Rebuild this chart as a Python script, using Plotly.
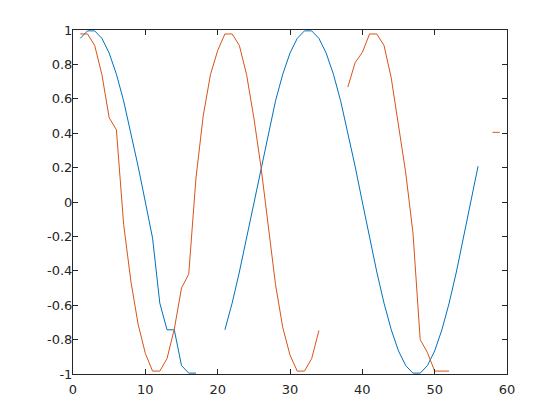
import plotly.graph_objects as go

x_vals = list(range(1, 60))

blue_vals = [0.951, 0.995, 0.995, 0.951, 0.866, 0.743, 0.588, 0.407, 0.208, 0.0,
             -0.21, -0.588, -0.743, -0.743, -0.951, -0.995, -0.995, None, None, None,
             -0.743, -0.588, -0.407, -0.208, 0.0, 0.208, 0.407, 0.588, 0.743, 0.866,
             0.951, 0.995, 0.995, 0.951, 0.866, 0.743, 0.588, 0.407, 0.208, 0.0,
             -0.208, -0.407, -0.588, -0.743, -0.866, -0.951, -0.995, -0.995, -0.951, -0.866,
             -0.743, -0.588, -0.407, -0.208, 0.0, 0.208, None, None, None]

orange_vals = [0.977, 0.977, 0.91, 0.74, 0.49, 0.42, -0.13, -0.46, -0.71, -0.88,
               -0.983, -0.983, -0.91, -0.74, -0.5, -0.42, 0.14, 0.5, 0.74, 0.88,
               0.977, 0.977, 0.91, 0.74, 0.49, 0.2, -0.14, -0.48, -0.73, -0.89,
               -0.983, -0.983, -0.91, -0.747, None, None, None, 0.668, 0.81, 0.87,
               0.977, 0.977, 0.91, 0.72, 0.45, 0.17, -0.18, -0.8, -0.875, -0.983,
               -0.983, -0.983, None, None, None, None, None, 0.405, 0.405]

x_ticks = [0, 10, 20, 30, 40, 50, 60]
x_tick_labels = ["0", "10", "20", "30", "40", "50", "60"]
y_ticks = [-1, -0.8, -0.6, -0.4, -0.2, 0, 0.2, 0.4, 0.6, 0.8, 1]
y_tick_labels = ["-1", "-0.8", "-0.6", "-0.4", "-0.2", "0", "0.2", "0.4", "0.6", "0.8", "1"]

fig = go.Figure()
fig.add_trace(go.Scatter(x=x_vals, y=blue_vals, mode="lines",
                         line=dict(color="#0072BD", width=1), connectgaps=False))
fig.add_trace(go.Scatter(x=x_vals, y=orange_vals, mode="lines",
                         line=dict(color="#D95319", width=1), connectgaps=False))

axis_common = dict(showgrid=False, zeroline=False, showline=True, mirror="ticks",
                   linecolor="#262626", linewidth=1, ticks="inside", ticklen=5,
                   tickcolor="#262626", tickwidth=1,
                   tickfont=dict(family="DejaVu Sans, sans-serif", size=13, color="#262626"))

fig.update_xaxes(range=[0, 60], tickvals=x_ticks, ticktext=x_tick_labels,
                 ticklabelstandoff=3, **axis_common)
fig.update_yaxes(range=[-1, 1], tickvals=y_ticks, ticktext=y_tick_labels,
                 ticklabelstandoff=-3, **axis_common)

fig.update_layout(width=544, height=404, showlegend=False,
                  margin=dict(l=65, r=45, t=22, b=38, pad=0),
                  plot_bgcolor="white", paper_bgcolor="white")

fig.write_html("out.html")
